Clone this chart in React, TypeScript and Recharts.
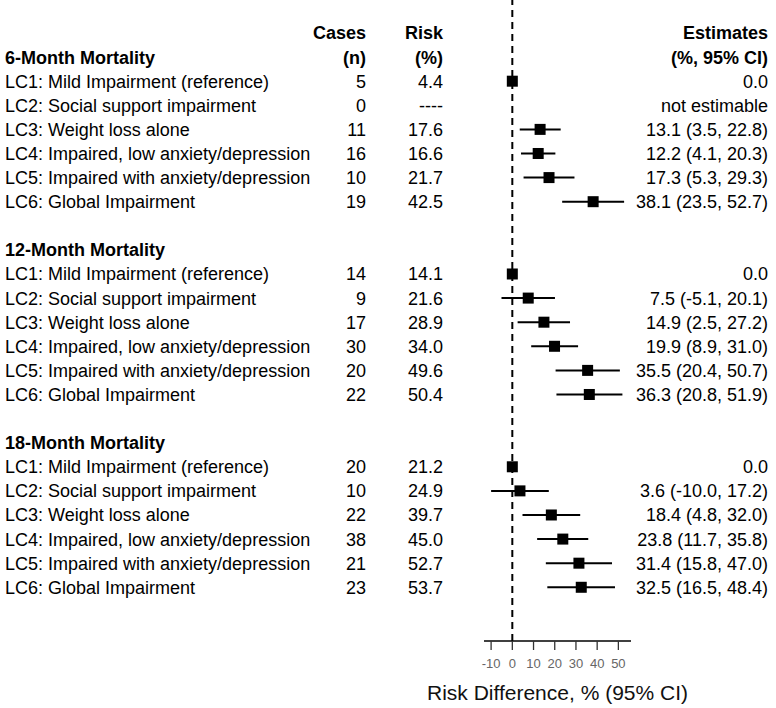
import React from 'react';
import { ScatterChart, Scatter, XAxis, YAxis, ErrorBar, ReferenceLine } from 'recharts';

const groupTitles = ['6-Month Mortality', '12-Month Mortality', '18-Month Mortality'];
const classLabels = [
  'LC1: Mild Impairment (reference)',
  'LC2: Social support impairment',
  'LC3: Weight loss alone',
  'LC4: Impaired, low anxiety/depression',
  'LC5: Impaired with anxiety/depression',
  'LC6: Global Impairment',
];

const cases6 = [5, 0, 11, 16, 10, 19];
const risk6: (number | null)[] = [4.4, null, 17.6, 16.6, 21.7, 42.5];
const est6: (number | null)[] = [0.0, null, 13.1, 12.2, 17.3, 38.1];
const lo6: (number | null)[] = [null, null, 3.5, 4.1, 5.3, 23.5];
const hi6: (number | null)[] = [null, null, 22.8, 20.3, 29.3, 52.7];

const cases12 = [14, 9, 17, 30, 20, 22];
const risk12: (number | null)[] = [14.1, 21.6, 28.9, 34.0, 49.6, 50.4];
const est12: (number | null)[] = [0.0, 7.5, 14.9, 19.9, 35.5, 36.3];
const lo12: (number | null)[] = [null, -5.1, 2.5, 8.9, 20.4, 20.8];
const hi12: (number | null)[] = [null, 20.1, 27.2, 31.0, 50.7, 51.9];

const cases18 = [20, 10, 22, 38, 21, 23];
const risk18: (number | null)[] = [21.2, 24.9, 39.7, 45.0, 52.7, 53.7];
const est18: (number | null)[] = [0.0, 3.6, 18.4, 23.8, 31.4, 32.5];
const lo18: (number | null)[] = [null, -10.0, 4.8, 11.7, 15.8, 16.5];
const hi18: (number | null)[] = [null, 17.2, 32.0, 35.8, 47.0, 48.4];

const xTicks = [-10, 0, 10, 20, 30, 40, 50];
const axisTitle = 'Risk Difference, % (95% CI)';
const headerLine1 = ['Cases', 'Risk', 'Estimates'];
const headerLine2 = ['(n)', '(%)', '(%, 95% CI)'];

type RowInfo = {
  label: string;
  bold: boolean;
  cases: string;
  risk: string;
  estimate: string;
};

const groups = [
  { cases: cases6, risk: risk6, est: est6, lo: lo6, hi: hi6 },
  { cases: cases12, risk: risk12, est: est12, lo: lo12, hi: hi12 },
  { cases: cases18, risk: risk18, est: est18, lo: lo18, hi: hi18 },
];

const rowMap: Record<number, RowInfo> = {};
const points: { x: number; row: number; err: [number, number] }[] = [];

rowMap[0] = { label: '', bold: true, cases: headerLine1[0], risk: headerLine1[1], estimate: headerLine1[2] };
groups.forEach((g, gi) => {
  const titleRow = 1 + gi * 8;
  rowMap[titleRow] = gi === 0
    ? { label: groupTitles[gi], bold: true, cases: headerLine2[0], risk: headerLine2[1], estimate: headerLine2[2] }
    : { label: groupTitles[gi], bold: true, cases: '', risk: '', estimate: '' };
  classLabels.forEach((lab, i) => {
    const r = titleRow + 1 + i;
    const e = g.est[i];
    const lo = g.lo[i];
    const hi = g.hi[i];
    let estText: string;
    if (e === null) estText = 'not estimable';
    else if (lo === null || hi === null) estText = e.toFixed(1);
    else estText = `${e.toFixed(1)} (${lo.toFixed(1)}, ${hi.toFixed(1)})`;
    const rv = g.risk[i];
    rowMap[r] = {
      label: lab,
      bold: false,
      cases: String(g.cases[i]),
      risk: rv === null ? '----' : rv.toFixed(1),
      estimate: estText,
    };
    if (e !== null) {
      points.push({
        x: e,
        row: r,
        err: [lo === null ? 0 : e - lo, hi === null ? 0 : hi - e],
      });
    }
  });
});

const rowTicks = Array.from({ length: 24 }, (_, i) => i);

const FONT = '"Liberation Sans", Arial, sans-serif';

const RowTick = (props: any) => {
  const { y, payload } = props;
  const info = rowMap[payload.value];
  if (!info) return <g />;
  const common = {
    fontFamily: FONT,
    fontSize: 18,
    fill: '#000',
    fontWeight: info.bold ? 700 : 400,
    dy: '0.36em',
  } as any;
  return (
    <g>
      {info.label && (
        <text x={5} y={y} textAnchor="start" {...common}>{info.label}</text>
      )}
      {info.cases && (
        <text x={366} y={y} textAnchor="end" {...common}>{info.cases}</text>
      )}
      {info.risk && (
        <text x={443} y={y} textAnchor="end" {...common}>{info.risk}</text>
      )}
      {info.estimate && (
        <text x={768} y={y} textAnchor="end" {...common}>{info.estimate}</text>
      )}
    </g>
  );
};

const Square = (props: any) => {
  const { cx, cy } = props;
  if (cx == null || cy == null) return <g />;
  return <rect x={cx - 5.5} y={cy - 5.5} width={11} height={11} fill="#000" />;
};

const AxisTitle = (props: any) => {
  const vb = props.viewBox || {};
  return (
    <text
      x={vb.x + vb.width / 2}
      y={vb.y + 51}
      textAnchor="middle"
      dy="0.36em"
      fontFamily={FONT}
      fontSize={21}
      fill="#111"
    >
      {axisTitle}
    </text>
  );
};

export default function App() {
  return (
    <div style={{ position: 'absolute', left: 0, top: 0, width: 776, height: 708, background: '#fff' }}>
      <ScatterChart
        width={776}
        height={708}
        margin={{ top: 0, right: 145, bottom: 0, left: 0 }}
      >
        <XAxis
          type="number"
          dataKey="x"
          domain={[-13.35, 55.95]}
          allowDataOverflow
          ticks={xTicks}
          interval={0}
          height={67}
          tickSize={9}
          tickMargin={9}
          axisLine={{ stroke: '#000', strokeWidth: 1.5 }}
          tickLine={{ stroke: '#333', strokeWidth: 1.3 }}
          tick={{ fill: '#666', fontSize: 13, fontFamily: FONT }}
          label={<AxisTitle />}
        />
        <YAxis
          type="number"
          dataKey="row"
          domain={[-1.369, 25.229]}
          allowDataOverflow
          reversed
          ticks={rowTicks}
          interval={0}
          width={484}
          axisLine={false}
          tickLine={false}
          tick={<RowTick />}
        />
        <ReferenceLine x={0} stroke="#000" strokeWidth={2} strokeDasharray="7 5" ifOverflow="extendDomain" />
        <Scatter data={points} shape={<Square />} isAnimationActive={false}>
          <ErrorBar dataKey="err" direction="x" width={0} stroke="#000" strokeWidth={2} />
        </Scatter>
      </ScatterChart>
    </div>
  );
}
